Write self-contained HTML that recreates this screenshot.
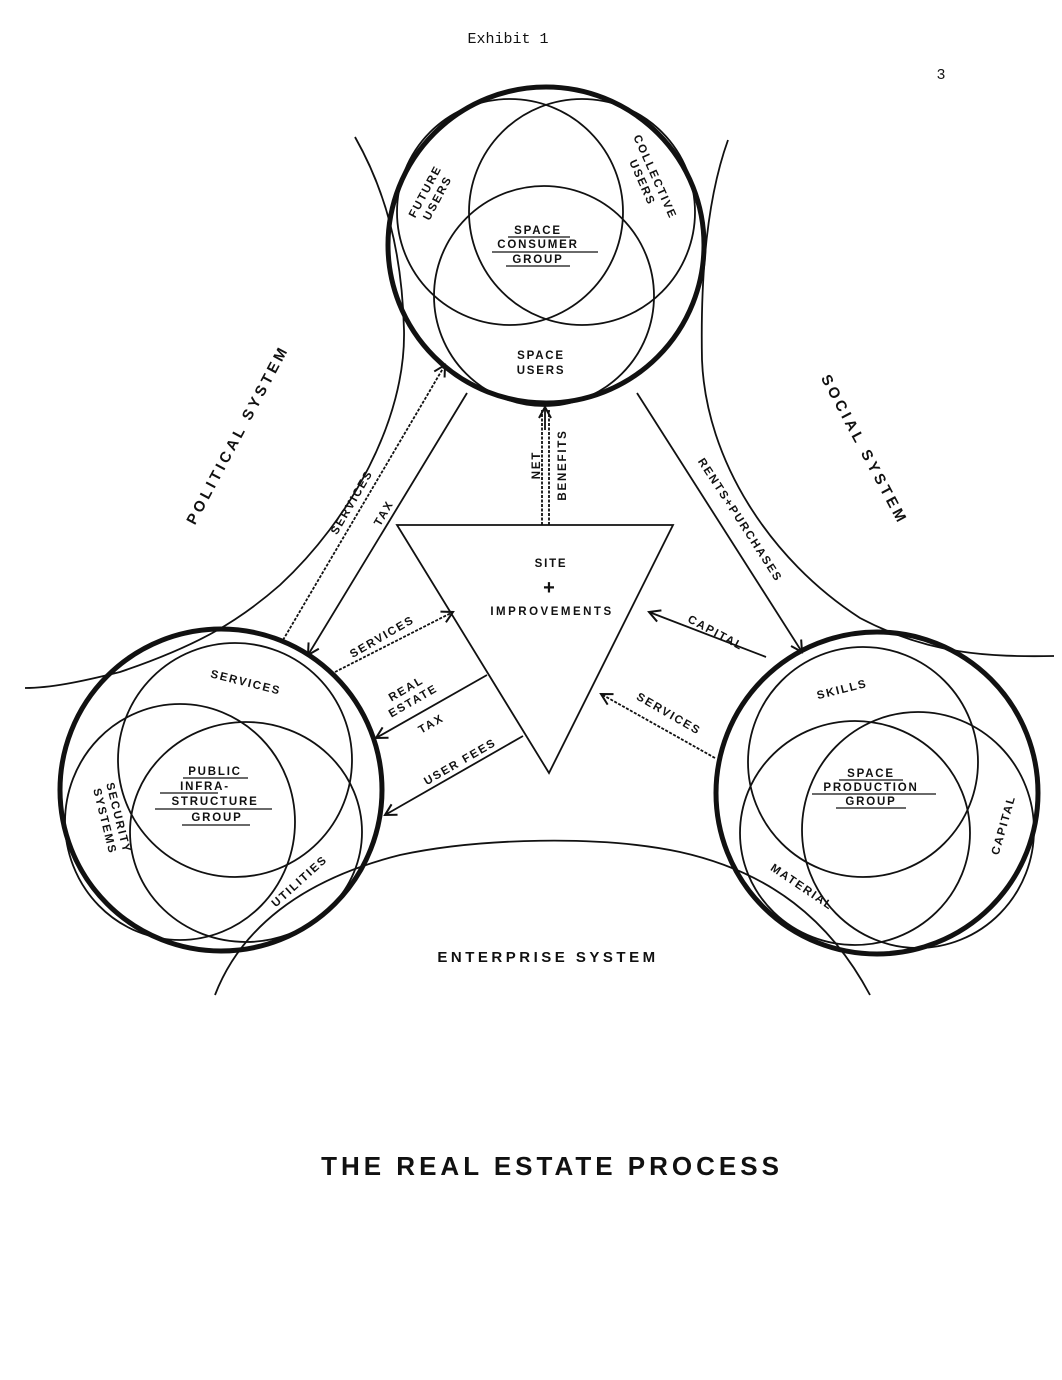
<!DOCTYPE html>
<html><head><meta charset="utf-8"><style>
html,body{margin:0;padding:0;background:#fff;}
svg{display:block;}
.l{font-family:"Liberation Sans",sans-serif;font-weight:bold;font-size:11.5px;letter-spacing:1.8px;fill:#111;text-anchor:middle;}
.b{font-family:"Liberation Sans",sans-serif;font-weight:bold;font-size:15px;letter-spacing:3.5px;fill:#111;text-anchor:middle;}
</style></head><body>
<svg width="1062" height="1380" viewBox="0 0 1062 1380" xmlns="http://www.w3.org/2000/svg">
<defs>
<marker id="ar" markerWidth="14" markerHeight="14" refX="12" refY="7" orient="auto" markerUnits="userSpaceOnUse">
<path d="M1,1 L12,7 L1,13" fill="none" stroke="#111" stroke-width="2"/></marker>
</defs>
<text x="508" y="43" font-family="Liberation Mono,monospace" font-size="15" text-anchor="middle" fill="#111">Exhibit 1</text>
<text x="941" y="79" font-family="Liberation Mono,monospace" font-size="15" text-anchor="middle" fill="#111">3</text>

<g fill="none" stroke="#111" stroke-width="1.8">
<path d="M355,137 C385,190 402,250 404,330 C406,420 350,520 280,585 C240,620 200,645 120,672 C80,682 50,688 25,688"/>
<path d="M728,140 C710,190 700,260 702,360 C706,460 770,560 860,618 C930,655 990,657 1054,656"/>
<path d="M215,995 C240,930 300,880 400,855 C480,838 600,835 680,852 C770,872 830,920 870,995"/>
<path d="M397,525 L673,525 L549,773 Z"/>
<circle cx="510" cy="212" r="113"/>
<circle cx="582" cy="212" r="113"/>
<circle cx="544" cy="296" r="110"/>
<circle cx="235" cy="760" r="117"/>
<ellipse cx="180" cy="822" rx="115" ry="118"/>
<ellipse cx="246" cy="832" rx="116" ry="110"/>
<circle cx="863" cy="762" r="115"/>
<ellipse cx="855" cy="833" rx="115" ry="112"/>
<ellipse cx="918" cy="830" rx="116" ry="118"/>
</g>
<g fill="none" stroke="#111" stroke-width="5">
<circle cx="546" cy="245" r="158"/>
<circle cx="221" cy="790" r="161"/>
<circle cx="877" cy="793" r="161"/>
</g>

<g fill="none" stroke="#111" stroke-width="1.8">
<path d="M283,640 L445,365" stroke-dasharray="3,1.5" marker-end="url(#ar)"/>
<path d="M467,393 L308,655" marker-end="url(#ar)"/>
<path d="M542,525 L542,410" stroke-dasharray="3,1.5"/>
<path d="M549,525 L549,410" stroke-dasharray="3,1.5"/>
<path d="M545,430 L545,407" marker-end="url(#ar)"/>
<path d="M637,393 L802,652" marker-end="url(#ar)"/>
<path d="M766,657 L649,612" marker-end="url(#ar)"/>
<path d="M715,758 L601,694" stroke-dasharray="3,1.5" marker-end="url(#ar)"/>
<path d="M335,672 L453,612" stroke-dasharray="3,1.5" marker-end="url(#ar)"/>
<path d="M487,675 L376,738" marker-end="url(#ar)"/>
<path d="M523,736 L385,815" marker-end="url(#ar)"/>
</g>

<text class="l" transform="translate(432,195) rotate(-62)"><tspan x="0" y="-4">FUTURE</tspan><tspan x="0" y="10">USERS</tspan></text>
<text class="l" transform="translate(648,180) rotate(66)"><tspan x="0" y="-4">COLLECTIVE</tspan><tspan x="0" y="10">USERS</tspan></text>
<text class="l" x="538" y="234">SPACE</text>
<text class="l" x="538" y="248">CONSUMER</text>
<text class="l" x="538" y="263">GROUP</text>
<g stroke="#111" stroke-width="1.2"><line x1="508" y1="237" x2="570" y2="237"/><line x1="492" y1="252" x2="598" y2="252"/><line x1="506" y1="266" x2="570" y2="266"/></g>
<text class="l" x="541" y="359">SPACE</text>
<text class="l" x="541" y="374">USERS</text>

<text class="l" transform="translate(245,686) rotate(14)">SERVICES</text>
<text class="l" x="215" y="775">PUBLIC</text>
<text class="l" x="205" y="790">INFRA-</text>
<text class="l" x="215" y="805">STRUCTURE</text>
<text class="l" x="217" y="821">GROUP</text>
<g stroke="#111" stroke-width="1.2"><line x1="183" y1="778" x2="248" y2="778"/><line x1="160" y1="793" x2="218" y2="793"/><line x1="155" y1="809" x2="272" y2="809"/><line x1="182" y1="825" x2="250" y2="825"/></g>
<text class="l" transform="translate(110,820) rotate(76)"><tspan x="0" y="-5">SECURITY</tspan><tspan x="0" y="9">SYSTEMS</tspan></text>
<text class="l" transform="translate(302,884) rotate(-42)">UTILITIES</text>

<text class="l" transform="translate(843,693) rotate(-14)">SKILLS</text>
<text class="l" x="871" y="777">SPACE</text>
<text class="l" x="871" y="791">PRODUCTION</text>
<text class="l" x="871" y="805">GROUP</text>
<g stroke="#111" stroke-width="1.2"><line x1="839" y1="780" x2="903" y2="780"/><line x1="812" y1="794" x2="936" y2="794"/><line x1="836" y1="808" x2="906" y2="808"/></g>
<text class="l" transform="translate(800,890) rotate(34)">MATERIAL</text>
<text class="l" transform="translate(1007,826) rotate(-74)">CAPITAL</text>

<text class="l" x="551" y="567">SITE</text>
<text x="549" y="594" font-family="Liberation Sans,sans-serif" font-size="20" font-weight="bold" text-anchor="middle" fill="#111">+</text>
<text class="l" x="552" y="615" style="letter-spacing:2.5px">IMPROVEMENTS</text>

<text class="l" transform="translate(355,504) rotate(-60)">SERVICES</text>
<text class="l" transform="translate(387,515) rotate(-60)">TAX</text>
<text class="l" transform="translate(540,465) rotate(-90)">NET</text>
<text class="l" transform="translate(566,465) rotate(-90)">BENEFITS</text>
<text class="l" transform="translate(737,522) rotate(57)">RENTS+PURCHASES</text>
<text class="l" transform="translate(714,636) rotate(28)">CAPITAL</text>
<text class="l" transform="translate(667,717) rotate(30)">SERVICES</text>
<text class="l" transform="translate(384,640) rotate(-30)">SERVICES</text>
<text class="l" transform="translate(408,692) rotate(-30)"><tspan x="0" y="0">REAL</tspan><tspan x="0" y="14">ESTATE</tspan></text>
<text class="l" transform="translate(433,727) rotate(-30)">TAX</text>
<text class="l" transform="translate(462,765) rotate(-30)">USER FEES</text>

<text class="b" transform="translate(242,437) rotate(-62)">POLITICAL  SYSTEM</text>
<text class="b" transform="translate(860,452) rotate(62)">SOCIAL  SYSTEM</text>
<text class="b" x="548" y="962">ENTERPRISE SYSTEM</text>

<text x="552" y="1175" font-family="Liberation Sans,sans-serif" font-weight="bold" font-size="26" letter-spacing="4" text-anchor="middle" fill="#111">THE REAL ESTATE PROCESS</text>
</svg>
</body></html>
